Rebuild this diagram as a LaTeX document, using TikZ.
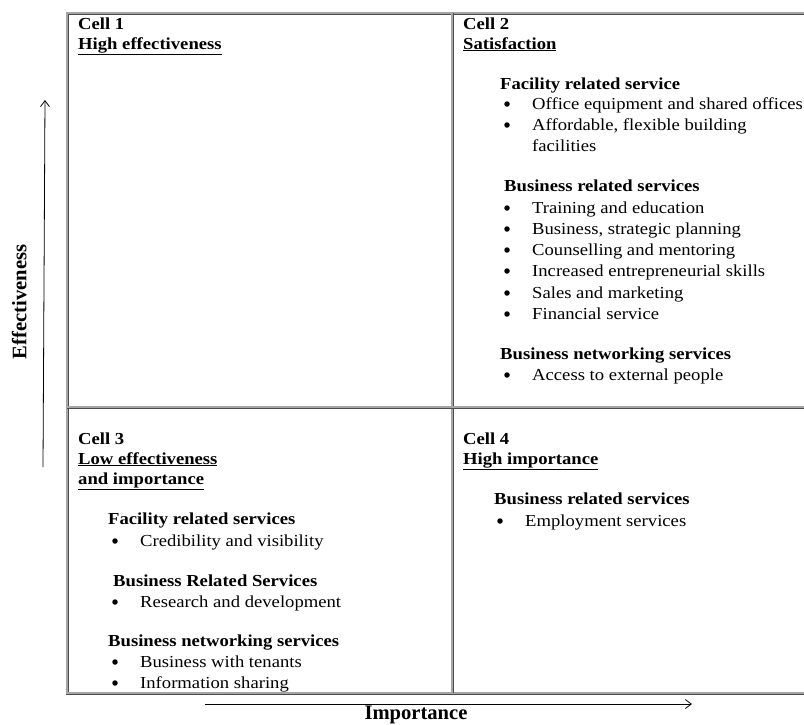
\documentclass[tikz,border=0pt]{standalone}
\usepackage{fontspec}
\setmainfont{Liberation Serif}
\newfontfamily\cellfont{Liberation Serif}[FakeStretch=1.11]
\usetikzlibrary{arrows.meta}
\tikzset{
  frame/.style={draw=black!70, double=black!35, double distance=1.2pt, line width=0.9pt},
  hd/.style={anchor=base west, inner sep=0pt, font=\cellfont\fontsize{16.8}{20}\selectfont\bfseries},
  itm/.style={anchor=base west, inner sep=0pt, font=\cellfont\fontsize{16.8}{20}\selectfont},
  bul/.style={circle, fill=black, inner sep=0pt, minimum size=5.5pt},
  axis/.style={draw=black, line width=0.8pt, -{Straight Barb[length=6pt,width=9pt]}},
  axlabel/.style={inner sep=0pt, anchor=base, font=\fontsize{20.6}{24}\selectfont\bfseries}
}
\begin{document}
\begin{tikzpicture}[x=1pt,y=-1pt]
\useasboundingbox (0,0) rectangle (804,724);
% frame
\draw[frame] (810,13) -- (67,13) -- (67,693) -- (810,693);
\draw[frame] (452,13) -- (452,693);
\draw[frame] (67,407) -- (810,407);
% axes
\coordinate (ybot) at (43,467);
\coordinate (ytop) at (45,100);
\draw[axis] (ybot) -- (ytop);
\coordinate (xl) at (205,704);
\coordinate (xr) at (692,704);
\draw[axis] (xl) -- (xr);
\node[axlabel, rotate=90] (ylab) at (26.5,302) {Effectiveness};
\node[axlabel] (xlab) at (416,719) {Importance};
% Cell 1
\node[hd] (c1) at (78,29) {Cell 1};
\node[hd] (c1t) at (78,49) {\underline{High effectiveness}};
% Cell 2
\node[hd] (c2) at (463,29) {Cell 2};
\node[hd] (c2t) at (463,49) {\underline{Satisfaction}};
\node[hd] (c2h1) at (500,89) {Facility related service};
\node[bul] (c2b1) at (507,104) {};
\node[itm] (c2i1) at (532,109) {Office equipment and shared offices};
\node[bul] (c2b2) at (507,125) {};
\node[itm] (c2i2) at (532,130) {Affordable, flexible building};
\node[itm] (c2i2b) at (532,151) {facilities};
\node[hd] (c2h2) at (504,191) {Business related services};
\node[bul] (c2b3) at (507,208) {};
\node[itm] (c2i3) at (532,213) {Training and education};
\node[bul] (c2b4) at (507,229) {};
\node[itm] (c2i4) at (532,234) {Business, strategic planning};
\node[bul] (c2b5) at (507,250) {};
\node[itm] (c2i5) at (532,255) {Counselling and mentoring};
\node[bul] (c2b6) at (507,271) {};
\node[itm] (c2i6) at (532,276) {Increased entrepreneurial skills};
\node[bul] (c2b7) at (507,293) {};
\node[itm] (c2i7) at (532,298) {Sales and marketing};
\node[bul] (c2b8) at (507,314) {};
\node[itm] (c2i8) at (532,319) {Financial service};
\node[hd] (c2h3) at (500,359) {Business networking services};
\node[bul] (c2b9) at (507,375) {};
\node[itm] (c2i9) at (532,380) {Access to external people};
% Cell 3
\node[hd] (c3) at (78,444) {Cell 3};
\node[hd] (c3t) at (78,464) {\underline{Low effectiveness}};
\node[hd] (c3t2) at (78,484) {\underline{and importance}};
\node[hd] (c3h1) at (108,524) {Facility related services};
\node[bul] (c3b1) at (115,541) {};
\node[itm] (c3i1) at (140,546) {Credibility and visibility};
\node[hd] (c3h2) at (113,586) {Business Related Services};
\node[bul] (c3b2) at (115,602) {};
\node[itm] (c3i2) at (140,607) {Research and development};
\node[hd] (c3h3) at (108,646) {Business networking services};
\node[bul] (c3b3) at (115,662) {};
\node[itm] (c3i3) at (140,667) {Business with tenants};
\node[bul] (c3b4) at (115,683) {};
\node[itm] (c3i4) at (140,688) {Information sharing};
% Cell 4
\node[hd] (c4) at (463,444) {Cell 4};
\node[hd] (c4t) at (463,464) {\underline{High importance}};
\node[hd] (c4h1) at (494,504) {Business related services};
\node[bul] (c4b1) at (500,521) {};
\node[itm] (c4i1) at (525,526) {Employment services};
\end{tikzpicture}
\end{document}
